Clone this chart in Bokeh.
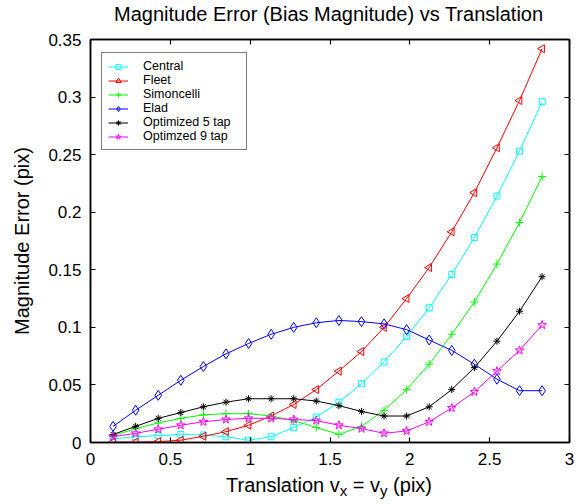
from bokeh.plotting import figure
from bokeh.models import (Range1d, LinearAxis, FixedTicker, Legend, LegendItem, Div)
from bokeh.layouts import column
from bokeh.embed import file_html
from bokeh.resources import INLINE
import math

# Translation magnitude (pix) along the diagonal v_x = v_y
translation = [0.1414, 0.2828, 0.4243, 0.5657, 0.7071, 0.8485, 0.9899, 1.1314, 1.2728, 1.4142,
               1.5556, 1.6971, 1.8385, 1.9799, 2.1213, 2.2627, 2.4042, 2.5456, 2.6870, 2.8284]

central = [0.003, 0.005, 0.006, 0.007, 0.0065, 0.005, 0.002, 0.005, 0.013, 0.022,
           0.035, 0.051, 0.070, 0.092, 0.117, 0.146, 0.178, 0.214, 0.253, 0.296]
fleet = [0.0003, 0.0004, 0.0008, 0.002, 0.0054, 0.0094, 0.015, 0.023, 0.033, 0.046,
         0.062, 0.079, 0.100, 0.125, 0.152, 0.183, 0.217, 0.256, 0.297, 0.342]
simoncelli = [0.006, 0.012, 0.017, 0.021, 0.024, 0.025, 0.025, 0.023, 0.019, 0.013,
              0.007, 0.014, 0.028, 0.046, 0.068, 0.094, 0.122, 0.155, 0.191, 0.231]
elad = [0.014, 0.028, 0.041, 0.054, 0.066, 0.077, 0.086, 0.094, 0.100, 0.104,
        0.106, 0.105, 0.103, 0.098, 0.089, 0.080, 0.068, 0.055, 0.045, 0.045]
optimized5 = [0.007, 0.014, 0.021, 0.026, 0.031, 0.035, 0.038, 0.038, 0.038, 0.036,
              0.032, 0.027, 0.023, 0.023, 0.031, 0.046, 0.065, 0.088, 0.114, 0.144]
optimized9 = [0.005, 0.008, 0.0115, 0.015, 0.018, 0.020, 0.021, 0.021, 0.020, 0.019,
              0.015, 0.012, 0.008, 0.010, 0.018, 0.030, 0.044, 0.062, 0.080, 0.102]

series_names = ["Central", "Fleet", "Simoncelli", "Elad", "Optimized 5 tap", "Optimzed 9 tap"]

x_ticks = [0, 0.5, 1, 1.5, 2, 2.5, 3]
x_tick_labels = ["0", "0.5", "1", "1.5", "2", "2.5", "3"]
y_ticks = [0, 0.05, 0.1, 0.15, 0.2, 0.25, 0.3, 0.35]
y_tick_labels = ["0", "0.05", "0.1", "0.15", "0.2", "0.25", "0.3", "0.35"]

FONT = "Liberation Sans"

p = figure(width=587, height=448, output_backend="svg", toolbar_location=None, title=None,
           x_range=Range1d(0, 3), y_range=Range1d(0, 0.35),
           min_border_left=90, min_border_right=18, min_border_top=13, min_border_bottom=32,
           background_fill_color="white", border_fill_color="white")

p.xgrid.visible = False
p.ygrid.visible = False
p.outline_line_color = "black"
p.outline_line_width = 1.5


def style_axis(ax, ticks, labels, show_labels):
    ax.ticker = FixedTicker(ticks=ticks)
    ax.minor_tick_line_color = None
    ax.major_tick_in = 5
    ax.major_tick_out = 0
    ax.major_tick_line_width = 1.2
    ax.axis_line_width = 1.5
    ax.axis_line_color = "black"
    ax.major_tick_line_color = "black"
    if show_labels:
        ax.major_label_overrides = {t: l for t, l in zip(ticks, labels)}
        ax.major_label_text_font = FONT
        ax.major_label_text_font_size = "17px"
        ax.major_label_text_color = "black"
    else:
        ax.major_label_text_color = None
        ax.major_label_text_font_size = "1px"
        ax.major_label_standoff = 0


style_axis(p.xaxis[0], x_ticks, x_tick_labels, True)
style_axis(p.yaxis[0], y_ticks, y_tick_labels, True)
p.xaxis[0].major_label_standoff = 10
p.yaxis[0].major_label_standoff = 9
p.yaxis[0].axis_label = "Magnitude Error (pix)"
p.yaxis[0].axis_label_text_font = FONT
p.yaxis[0].axis_label_text_font_size = "20px"
p.yaxis[0].axis_label_text_font_style = "normal"
p.yaxis[0].axis_label_text_color = "black"
p.yaxis[0].axis_label_standoff = 12

# mirrored tick marks on the top and right edges of the box
top_axis = LinearAxis()
style_axis(top_axis, x_ticks, x_tick_labels, False)
p.add_layout(top_axis, "above")
right_axis = LinearAxis()
style_axis(right_axis, y_ticks, y_tick_labels, False)
p.add_layout(right_axis, "right")

styles = [
    (central, "#00FFFF", "square", 6, 0),
    (fleet, "#FF0000", "triangle", 8, math.pi / 2),
    (simoncelli, "#00FF00", "cross", 8, 0),
    (elad, "#0000FF", "diamond", 10, 0),
    (optimized5, "#000000", "asterisk", 7, 0),
    (optimized9, "#FF00FF", "star", 9, 0),
]

items = []
for name, (ys, color, marker, size, angle) in zip(series_names, styles):
    lr = p.line(translation, ys, line_color=color, line_width=1)
    sr = p.scatter(translation, ys, marker=marker, size=size, angle=angle,
                   line_color=color, fill_color=None, line_width=1)
    items.append(LegendItem(label=name, renderers=[lr, sr]))

legend = Legend(items=items, location=(11, 292),
                label_text_font=FONT, label_text_font_size="12.5px",
                label_text_color="black",
                label_height=13, glyph_height=13, glyph_width=20, spacing=0,
                padding=6, label_standoff=15, label_width=97, margin=0,
                border_line_color="black", border_line_width=1,
                background_fill_color="white", background_fill_alpha=1)
p.add_layout(legend, "center")

# chart title over the plotting box
title = Div(
    text=('<div style="font-family: \'Liberation Sans\'; font-size: 20px; line-height: 23px; '
          'color: black; padding-top: 3px; padding-left: 114px; text-align: left; '
          'white-space: nowrap;">Magnitude Error (Bias Magnitude) vs Translation</div>'),
    width=587, height=26, margin=(0, 0, 0, 0))

# x-axis title with subscripted velocity components
sub = '<span style="font-size:15px; position:relative; top:4px;">{}</span>'
xlabel = Div(
    text=('<div style="font-family: \'Liberation Sans\'; font-size: 20px; line-height: 23px; '
          'color: black; padding-left: 226px; white-space: nowrap;">'
          'Translation v' + sub.format("x") + ' = v' + sub.format("y") + ' (pix)</div>'),
    width=587, height=30, margin=(0, 0, 0, 0))

layout = column(title, p, xlabel, spacing=0, margin=(0, 0, 0, 0))

open("out.html", "w").write(file_html(layout, INLINE))
